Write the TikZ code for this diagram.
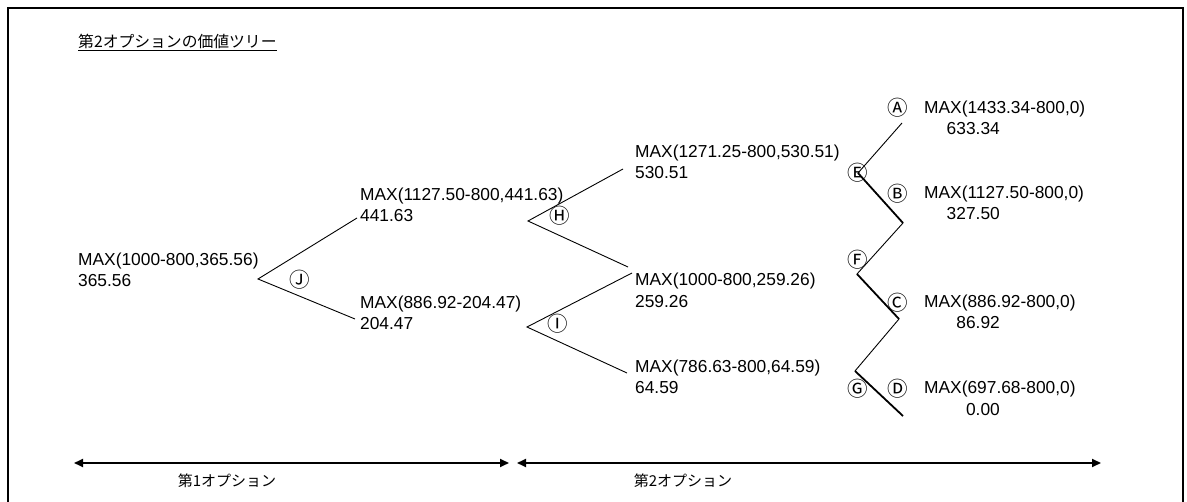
\documentclass[tikz,border=0pt]{standalone}
\usepackage{fontspec}
\setmainfont{Liberation Sans}
\newfontfamily\jp{Noto Sans CJK JP}
\usetikzlibrary{arrows.meta}
\begin{document}
\begin{tikzpicture}[x=1pt,y=-1pt,
  lbl/.style={inner sep=0pt, font=\fontsize{17.35}{20}\selectfont},
  circ/.style={inner sep=0pt, font=\jp\fontsize{20.5}{20}\selectfont},
  jptext/.style={inner sep=0pt, font=\jp\fontsize{15}{15}\selectfont},
  edgethin/.style={line width=0.9pt},
  edgethick/.style={line width=1.8pt},
  dimarrow/.style={line width=1.8pt, {Triangle[length=9pt,width=8pt]}-{Triangle[length=9pt,width=8pt]}},
  frame/.style={line width=1.4pt}]
\useasboundingbox (0,0) rectangle (1187,502);
\fill[white] (0,0) rectangle (1187,502);
% frame
\draw[frame] (8,503) -- (8,8) -- (1183,8) -- (1183,503);
% title
\node[anchor=base west, inner sep=0pt, font=\jp\fontsize{15.8}{16}\selectfont] (title) at (78,48) {\underline{第2オプションの価値ツリー}};

% text labels
\node[lbl, anchor=base west] (r1) at (78,266) {MAX(1000-800,365.56)};
\node[lbl, anchor=base west] (r2) at (78,287) {365.56};
\node[lbl, anchor=base west] (u1) at (360,201) {MAX(1127.50-800,441.63)};
\node[lbl, anchor=base west] (u2) at (360,222) {441.63};
\node[lbl, anchor=base west] (d1) at (360,309) {MAX(886.92-204.47)};
\node[lbl, anchor=base west] (d2) at (360,330) {204.47};
\node[lbl, anchor=base west] (uu1) at (635,158) {MAX(1271.25-800,530.51)};
\node[lbl, anchor=base west] (uu2) at (635,179) {530.51};
\node[lbl, anchor=base west] (ud1) at (635,286) {MAX(1000-800,259.26)};
\node[lbl, anchor=base west] (ud2) at (635,308) {259.26};
\node[lbl, anchor=base west] (dd1) at (635,373) {MAX(786.63-800,64.59)};
\node[lbl, anchor=base west] (dd2) at (635,394) {64.59};
\node[lbl, anchor=base west] (a1) at (924,114) {MAX(1433.34-800,0)};
\node[lbl, anchor=base east] (a2) at (1000,135) {633.34};
\node[lbl, anchor=base west] (b1) at (924,199) {MAX(1127.50-800,0)};
\node[lbl, anchor=base east] (b2) at (1000,220) {327.50};
\node[lbl, anchor=base west] (c1) at (924,308) {MAX(886.92-800,0)};
\node[lbl, anchor=base east] (c2) at (1000,329) {86.92};
\node[lbl, anchor=base west] (dx1) at (924,394) {MAX(697.68-800,0)};
\node[lbl, anchor=base east] (dx2) at (1000,416) {0.00};

% circled letters
\node[circ] (cA) at (898,108) {Ⓐ};
\node[circ] (cB) at (898,194) {Ⓑ};
\node[circ] (cC) at (898,303) {Ⓒ};
\node[circ] (cD) at (898,389) {Ⓓ};
\node[circ] (cE) at (858,173) {Ⓔ};
\node[circ] (cF) at (858,260) {Ⓕ};
\node[circ] (cG) at (858,389) {Ⓖ};
\node[circ] (cH) at (560,216) {Ⓗ};
\node[circ] (cI) at (558,324) {Ⓘ};
\node[circ] (cJ) at (300,280) {Ⓙ};

% tree coordinates
\coordinate (jA) at (258,279);
\coordinate (jU) at (357,218);
\coordinate (jD) at (355,319);
\coordinate (hA) at (528,221);
\coordinate (hU) at (623,169);
\coordinate (hD) at (628,267);
\coordinate (iA) at (527,327);
\coordinate (iU) at (632,273);
\coordinate (iD) at (627,373);
\coordinate (z0) at (902,123);
\coordinate (z1) at (858,173);
\coordinate (z2) at (903,223);
\coordinate (z3) at (857,274);
\coordinate (z4) at (899,319);
\coordinate (z5) at (855,371);
\coordinate (z6) at (903,416);

\draw[edgethin] (jU) -- (jA) -- (jD);
\draw[edgethin] (hU) -- (hA) -- (hD);
\draw[edgethin] (iU) -- (iA) -- (iD);
\draw[edgethin] (z0) -- (z1);
\draw[edgethick] (z1) -- (z2);
\draw[edgethin] (z2) -- (z3);
\draw[edgethick] (z3) -- (z4);
\draw[edgethin] (z4) -- (z5);
\draw[edgethick] (z5) -- (z6);

% bottom arrows
\coordinate (p1) at (74,463);
\coordinate (p2) at (509,463);
\coordinate (p3) at (517,463);
\coordinate (p4) at (1101,463);
\draw[dimarrow] (p1) -- (p2);
\draw[dimarrow] (p3) -- (p4);
\node[jptext] (opt1) at (227,481) {第1オプション};
\node[jptext] (opt2) at (683,481) {第2オプション};
\end{tikzpicture}
\end{document}
